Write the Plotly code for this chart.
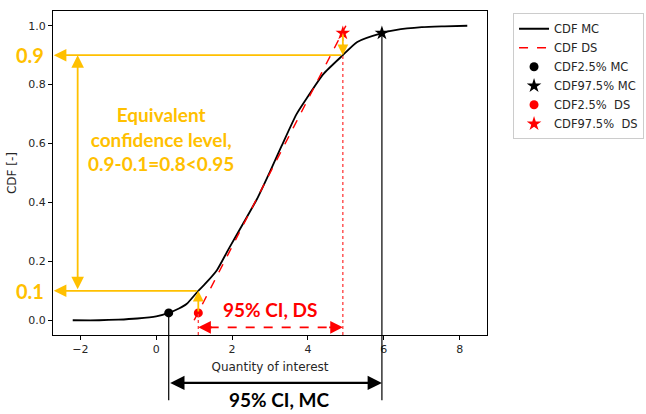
import plotly.graph_objects as go

# Monte Carlo empirical CDF of the quantity of interest
mc_x = [-2.2, -1.5, -1.0, -0.5, 0.0, 0.33, 0.6, 0.8, 1.11, 1.3, 1.6, 1.9, 2.3,
        2.65, 3.0, 3.3, 3.7, 4.0, 4.4, 4.92, 5.3, 5.95, 6.3, 7.0, 7.6, 8.2]
mc_y = [0.0, 0.0, 0.002, 0.006, 0.013, 0.025, 0.04, 0.055, 0.1, 0.125, 0.17,
        0.24, 0.33, 0.41, 0.505, 0.59, 0.70, 0.76, 0.835, 0.9, 0.945, 0.975,
        0.985, 0.995, 0.998, 1.0]

# Deterministic-sampling CDF (linear)
ds_x = [1.0, 5.0]
ds_y = [0.0, 1.0]

# 2.5 % / 97.5 % quantiles
mc_lo = (0.33, 0.025)
mc_hi = (5.95, 0.975)
ds_lo = (1.11, 0.025)
ds_hi = (4.92, 0.975)

# Equivalent confidence levels
lvl_hi = 0.9
lvl_lo = 0.1

ORANGE = "#FFC000"
RED = "#FF0000"
BOLD = "Lato"
TXT = "#262626"

X_RANGE = [-2.72, 8.72]
Y_RANGE = [-0.05, 1.05]

fig = go.Figure()

fig.add_trace(go.Scatter(x=mc_x, y=mc_y, mode="lines", name="CDF MC",
                         line=dict(color="black", width=1.8, shape="spline",
                                   smoothing=0.6)))
fig.add_trace(go.Scatter(x=ds_x, y=ds_y, mode="lines", name="CDF DS",
                         line=dict(color=RED, width=1.5, dash="dash")))
fig.add_trace(go.Scatter(x=[mc_lo[0]], y=[mc_lo[1]], mode="markers", name="CDF2.5% MC",
                         marker=dict(color="black", size=9, symbol="circle")))
fig.add_trace(go.Scatter(x=[mc_hi[0]], y=[mc_hi[1]], mode="markers", name="CDF97.5% MC",
                         marker=dict(color="black", size=11, symbol="star")))
fig.add_trace(go.Scatter(x=[ds_lo[0]], y=[ds_lo[1]], mode="markers", name="CDF2.5%\u00a0 DS",
                         marker=dict(color=RED, size=9, symbol="circle")))
fig.add_trace(go.Scatter(x=[ds_hi[0]], y=[ds_hi[1]], mode="markers", name="CDF97.5%\u00a0 DS",
                         marker=dict(color=RED, size=11, symbol="star")))

# dashed red interval line for the DS confidence interval
ci_ds_y = -0.024
fig.add_trace(go.Scatter(x=[ds_lo[0] + 0.3, ds_hi[0] - 0.3], y=[ci_ds_y, ci_ds_y],
                         mode="lines", showlegend=False, hoverinfo="skip",
                         line=dict(color=RED, width=1.8, dash="dash")))

shapes = []
# dotted red drop lines from the DS quantiles
for px, py in (ds_lo, ds_hi):
    shapes.append(dict(type="line", xref="x", yref="y", x0=px, x1=px,
                       y0=Y_RANGE[0], y1=py,
                       line=dict(color="#FF3B3B", width=1.3, dash="dot")))

annotations = []


def arrow(x, y, ax, ay, color, width=1.8, head=2, size=1.4, side="end"):
    annotations.append(dict(x=x, y=y, ax=ax, ay=ay, xref="x", yref="y",
                            axref="x", ayref="y", text="", showarrow=True,
                            arrowhead=head, startarrowhead=head, arrowsize=size,
                            startarrowsize=size, arrowwidth=width,
                            arrowcolor=color, arrowside=side,
                            standoff=0, startstandoff=0))


# orange level lines towards the y axis
arrow(X_RANGE[0] + 0.02, lvl_hi, mc_x[mc_y.index(lvl_hi)], lvl_hi, ORANGE)
arrow(X_RANGE[0] + 0.02, lvl_lo, mc_x[mc_y.index(lvl_lo)], lvl_lo, ORANGE)
# vertical span of the equivalent confidence level
arrow(-2.07, lvl_hi, -2.07, lvl_lo, ORANGE, side="end+start")
# short shifts from DS quantiles onto the MC curve
arrow(ds_lo[0], lvl_lo, ds_lo[0], ds_lo[1], ORANGE, size=1.2)
arrow(ds_hi[0], lvl_hi, ds_hi[0], ds_hi[1], ORANGE, size=1.2)

# black drop lines from the MC quantiles below the axis
arrow(mc_lo[0], mc_lo[1], mc_lo[0], -0.277, "black", width=1.2, head=0)
arrow(mc_hi[0], mc_hi[1], mc_hi[0], -0.277, "black", width=1.2, head=0)

# black double arrow for the MC confidence interval
annotations.append(dict(x=mc_hi[0], y=-0.148, ax=mc_lo[0], ay=0,
                        xref="x", yref="paper", axref="x", ayref="pixel",
                        text="", showarrow=True, arrowhead=2, startarrowhead=2,
                        arrowsize=1.3, startarrowsize=1.3, arrowwidth=2.2,
                        arrowcolor="black", arrowside="end+start",
                        standoff=0, startstandoff=0))

# red arrow heads for the DS confidence interval
arrow(ds_lo[0], ci_ds_y, ds_lo[0] + 0.4, ci_ds_y, RED, width=1.8, size=1.4)
arrow(ds_hi[0], ci_ds_y, ds_hi[0] - 0.4, ci_ds_y, RED, width=1.8, size=1.4)

# text labels
annotations.append(dict(x=0.13, y=0.614, xref="x", yref="y", showarrow=False,
                        text="<b>Equivalent<br>confidence level,<br>0.9-0.1=0.8&lt;0.95</b>",
                        font=dict(family=BOLD, size=19, color=ORANGE), align="center"))
annotations.append(dict(x=-0.017, y=lvl_hi, xref="paper", yref="y", showarrow=False,
                        xanchor="right", yanchor="middle", text="<b>0.9</b>",
                        font=dict(family=BOLD, size=20, color=ORANGE)))
annotations.append(dict(x=-0.017, y=lvl_lo, xref="paper", yref="y", showarrow=False,
                        xanchor="right", yanchor="middle", text="<b>0.1</b>",
                        font=dict(family=BOLD, size=20, color=ORANGE)))
annotations.append(dict(x=3.0, y=0.037, xref="x", yref="y", showarrow=False,
                        text="<b>95% CI, DS</b>",
                        font=dict(family=BOLD, size=19, color=RED)))
annotations.append(dict(x=3.25, y=-0.2, xref="x", yref="paper", showarrow=False,
                        xanchor="center", yanchor="middle", borderpad=0,
                        text="<b>95% CI, MC</b>",
                        font=dict(family=BOLD, size=19, color="black")))

axis_common = dict(showline=True, mirror=True, linecolor="black", linewidth=1,
                   ticks="outside", ticklen=4, tickcolor="black", showgrid=False,
                   zeroline=False, tickfont=dict(family="DejaVu Sans", size=11, color=TXT))

fig.update_layout(
    width=646, height=414,
    margin=dict(l=53, r=159, t=11, b=79, autoexpand=False),
    plot_bgcolor="white", paper_bgcolor="white",
    font=dict(family="DejaVu Sans", size=11, color=TXT),
    xaxis=dict(range=X_RANGE, tickmode="array", tickvals=[-2, 0, 2, 4, 6, 8],
               title=dict(text="Quantity of interest", standoff=7,
                          font=dict(family="DejaVu Sans", size=12, color=TXT)),
               **axis_common),
    yaxis=dict(range=Y_RANGE, tickmode="array",
               tickvals=[0.0, 0.2, 0.4, 0.6, 0.8, 1.0], tickformat=".1f",
               title=dict(text="CDF [-]", standoff=9,
                          font=dict(family="DejaVu Sans", size=12, color=TXT)),
               **axis_common),
    legend=dict(x=1.06, y=0.993, xanchor="left", yanchor="top",
                bordercolor="#CCCCCC", borderwidth=1, bgcolor="white",
                font=dict(family="DejaVu Sans", size=11.5, color=TXT),
                tracegroupgap=0),
    shapes=shapes,
    annotations=annotations,
)

fig.write_html("out.html")
